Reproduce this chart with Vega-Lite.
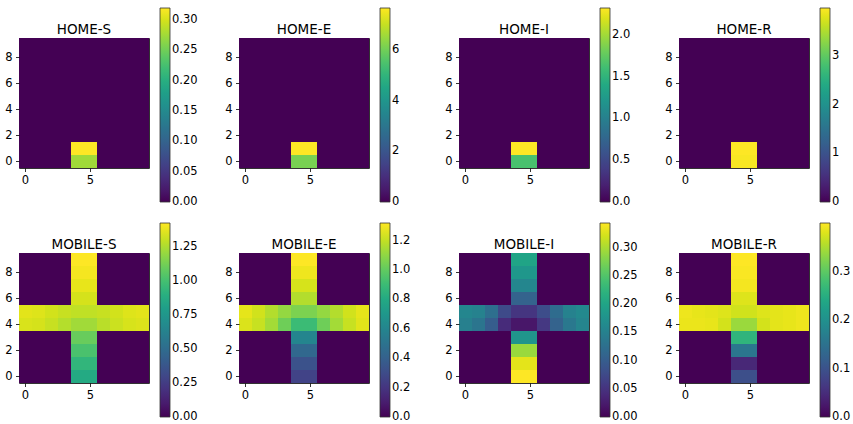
{
  "$schema": "https://vega.github.io/schema/vega-lite/v6.json",
  "autosize": {"type": "none"},
  "padding": {"left": 19, "top": 38, "right": 834, "bottom": 386},
  "background": "white",
  "config": {
    "font": "DejaVu Sans",
    "view": {"stroke": "#333", "strokeWidth": 1},
    "axis": {"domain": false, "grid": false, "title": null, "labelFont": "DejaVu Sans", "labelFontSize": 11.5, "labelColor": "#000", "tickColor": "#000", "tickSize": 3.5, "tickWidth": 0.8, "labelAngle": 0},
    "axisX": {"labelPadding": 2.5},
    "axisY": {"labelPadding": 3.5},
    "legend": {"labelFont": "DejaVu Sans", "labelFontSize": 11.5, "labelColor": "#000", "gradientLength": 194, "gradientThickness": 10, "gradientStrokeColor": "#333", "gradientStrokeWidth": 0.8, "labelOffset": 3, "labelOverlap": false, "labelBaseline": "middle", "direction": "vertical"},
    "title": {"font": "DejaVu Sans", "fontSize": 13.5, "fontWeight": "normal", "color": "#000", "anchor": "middle", "frame": "group", "offset": -28}
  },
  "datasets": {
    "home_s": [
      {"r":0,"c":0,"v":0},{"r":0,"c":1,"v":0},{"r":0,"c":2,"v":0},{"r":0,"c":3,"v":0},{"r":0,"c":4,"v":0.275},{"r":0,"c":5,"v":0.275},{"r":0,"c":6,"v":0},{"r":0,"c":7,"v":0},{"r":0,"c":8,"v":0},{"r":0,"c":9,"v":0},
      {"r":1,"c":0,"v":0},{"r":1,"c":1,"v":0},{"r":1,"c":2,"v":0},{"r":1,"c":3,"v":0},{"r":1,"c":4,"v":0.32},{"r":1,"c":5,"v":0.32},{"r":1,"c":6,"v":0},{"r":1,"c":7,"v":0},{"r":1,"c":8,"v":0},{"r":1,"c":9,"v":0},
      {"r":2,"c":0,"v":0},{"r":2,"c":1,"v":0},{"r":2,"c":2,"v":0},{"r":2,"c":3,"v":0},{"r":2,"c":4,"v":0},{"r":2,"c":5,"v":0},{"r":2,"c":6,"v":0},{"r":2,"c":7,"v":0},{"r":2,"c":8,"v":0},{"r":2,"c":9,"v":0},
      {"r":3,"c":0,"v":0},{"r":3,"c":1,"v":0},{"r":3,"c":2,"v":0},{"r":3,"c":3,"v":0},{"r":3,"c":4,"v":0},{"r":3,"c":5,"v":0},{"r":3,"c":6,"v":0},{"r":3,"c":7,"v":0},{"r":3,"c":8,"v":0},{"r":3,"c":9,"v":0},
      {"r":4,"c":0,"v":0},{"r":4,"c":1,"v":0},{"r":4,"c":2,"v":0},{"r":4,"c":3,"v":0},{"r":4,"c":4,"v":0},{"r":4,"c":5,"v":0},{"r":4,"c":6,"v":0},{"r":4,"c":7,"v":0},{"r":4,"c":8,"v":0},{"r":4,"c":9,"v":0},
      {"r":5,"c":0,"v":0},{"r":5,"c":1,"v":0},{"r":5,"c":2,"v":0},{"r":5,"c":3,"v":0},{"r":5,"c":4,"v":0},{"r":5,"c":5,"v":0},{"r":5,"c":6,"v":0},{"r":5,"c":7,"v":0},{"r":5,"c":8,"v":0},{"r":5,"c":9,"v":0},
      {"r":6,"c":0,"v":0},{"r":6,"c":1,"v":0},{"r":6,"c":2,"v":0},{"r":6,"c":3,"v":0},{"r":6,"c":4,"v":0},{"r":6,"c":5,"v":0},{"r":6,"c":6,"v":0},{"r":6,"c":7,"v":0},{"r":6,"c":8,"v":0},{"r":6,"c":9,"v":0},
      {"r":7,"c":0,"v":0},{"r":7,"c":1,"v":0},{"r":7,"c":2,"v":0},{"r":7,"c":3,"v":0},{"r":7,"c":4,"v":0},{"r":7,"c":5,"v":0},{"r":7,"c":6,"v":0},{"r":7,"c":7,"v":0},{"r":7,"c":8,"v":0},{"r":7,"c":9,"v":0},
      {"r":8,"c":0,"v":0},{"r":8,"c":1,"v":0},{"r":8,"c":2,"v":0},{"r":8,"c":3,"v":0},{"r":8,"c":4,"v":0},{"r":8,"c":5,"v":0},{"r":8,"c":6,"v":0},{"r":8,"c":7,"v":0},{"r":8,"c":8,"v":0},{"r":8,"c":9,"v":0},
      {"r":9,"c":0,"v":0},{"r":9,"c":1,"v":0},{"r":9,"c":2,"v":0},{"r":9,"c":3,"v":0},{"r":9,"c":4,"v":0},{"r":9,"c":5,"v":0},{"r":9,"c":6,"v":0},{"r":9,"c":7,"v":0},{"r":9,"c":8,"v":0},{"r":9,"c":9,"v":0}
    ],
    "home_e": [
      {"r":0,"c":0,"v":0},{"r":0,"c":1,"v":0},{"r":0,"c":2,"v":0},{"r":0,"c":3,"v":0},{"r":0,"c":4,"v":6.1},{"r":0,"c":5,"v":6.1},{"r":0,"c":6,"v":0},{"r":0,"c":7,"v":0},{"r":0,"c":8,"v":0},{"r":0,"c":9,"v":0},
      {"r":1,"c":0,"v":0},{"r":1,"c":1,"v":0},{"r":1,"c":2,"v":0},{"r":1,"c":3,"v":0},{"r":1,"c":4,"v":7.65},{"r":1,"c":5,"v":7.65},{"r":1,"c":6,"v":0},{"r":1,"c":7,"v":0},{"r":1,"c":8,"v":0},{"r":1,"c":9,"v":0},
      {"r":2,"c":0,"v":0},{"r":2,"c":1,"v":0},{"r":2,"c":2,"v":0},{"r":2,"c":3,"v":0},{"r":2,"c":4,"v":0},{"r":2,"c":5,"v":0},{"r":2,"c":6,"v":0},{"r":2,"c":7,"v":0},{"r":2,"c":8,"v":0},{"r":2,"c":9,"v":0},
      {"r":3,"c":0,"v":0},{"r":3,"c":1,"v":0},{"r":3,"c":2,"v":0},{"r":3,"c":3,"v":0},{"r":3,"c":4,"v":0},{"r":3,"c":5,"v":0},{"r":3,"c":6,"v":0},{"r":3,"c":7,"v":0},{"r":3,"c":8,"v":0},{"r":3,"c":9,"v":0},
      {"r":4,"c":0,"v":0},{"r":4,"c":1,"v":0},{"r":4,"c":2,"v":0},{"r":4,"c":3,"v":0},{"r":4,"c":4,"v":0},{"r":4,"c":5,"v":0},{"r":4,"c":6,"v":0},{"r":4,"c":7,"v":0},{"r":4,"c":8,"v":0},{"r":4,"c":9,"v":0},
      {"r":5,"c":0,"v":0},{"r":5,"c":1,"v":0},{"r":5,"c":2,"v":0},{"r":5,"c":3,"v":0},{"r":5,"c":4,"v":0},{"r":5,"c":5,"v":0},{"r":5,"c":6,"v":0},{"r":5,"c":7,"v":0},{"r":5,"c":8,"v":0},{"r":5,"c":9,"v":0},
      {"r":6,"c":0,"v":0},{"r":6,"c":1,"v":0},{"r":6,"c":2,"v":0},{"r":6,"c":3,"v":0},{"r":6,"c":4,"v":0},{"r":6,"c":5,"v":0},{"r":6,"c":6,"v":0},{"r":6,"c":7,"v":0},{"r":6,"c":8,"v":0},{"r":6,"c":9,"v":0},
      {"r":7,"c":0,"v":0},{"r":7,"c":1,"v":0},{"r":7,"c":2,"v":0},{"r":7,"c":3,"v":0},{"r":7,"c":4,"v":0},{"r":7,"c":5,"v":0},{"r":7,"c":6,"v":0},{"r":7,"c":7,"v":0},{"r":7,"c":8,"v":0},{"r":7,"c":9,"v":0},
      {"r":8,"c":0,"v":0},{"r":8,"c":1,"v":0},{"r":8,"c":2,"v":0},{"r":8,"c":3,"v":0},{"r":8,"c":4,"v":0},{"r":8,"c":5,"v":0},{"r":8,"c":6,"v":0},{"r":8,"c":7,"v":0},{"r":8,"c":8,"v":0},{"r":8,"c":9,"v":0},
      {"r":9,"c":0,"v":0},{"r":9,"c":1,"v":0},{"r":9,"c":2,"v":0},{"r":9,"c":3,"v":0},{"r":9,"c":4,"v":0},{"r":9,"c":5,"v":0},{"r":9,"c":6,"v":0},{"r":9,"c":7,"v":0},{"r":9,"c":8,"v":0},{"r":9,"c":9,"v":0}
    ],
    "home_i": [
      {"r":0,"c":0,"v":0},{"r":0,"c":1,"v":0},{"r":0,"c":2,"v":0},{"r":0,"c":3,"v":0},{"r":0,"c":4,"v":1.65},{"r":0,"c":5,"v":1.65},{"r":0,"c":6,"v":0},{"r":0,"c":7,"v":0},{"r":0,"c":8,"v":0},{"r":0,"c":9,"v":0},
      {"r":1,"c":0,"v":0},{"r":1,"c":1,"v":0},{"r":1,"c":2,"v":0},{"r":1,"c":3,"v":0},{"r":1,"c":4,"v":2.32},{"r":1,"c":5,"v":2.32},{"r":1,"c":6,"v":0},{"r":1,"c":7,"v":0},{"r":1,"c":8,"v":0},{"r":1,"c":9,"v":0},
      {"r":2,"c":0,"v":0},{"r":2,"c":1,"v":0},{"r":2,"c":2,"v":0},{"r":2,"c":3,"v":0},{"r":2,"c":4,"v":0},{"r":2,"c":5,"v":0},{"r":2,"c":6,"v":0},{"r":2,"c":7,"v":0},{"r":2,"c":8,"v":0},{"r":2,"c":9,"v":0},
      {"r":3,"c":0,"v":0},{"r":3,"c":1,"v":0},{"r":3,"c":2,"v":0},{"r":3,"c":3,"v":0},{"r":3,"c":4,"v":0},{"r":3,"c":5,"v":0},{"r":3,"c":6,"v":0},{"r":3,"c":7,"v":0},{"r":3,"c":8,"v":0},{"r":3,"c":9,"v":0},
      {"r":4,"c":0,"v":0},{"r":4,"c":1,"v":0},{"r":4,"c":2,"v":0},{"r":4,"c":3,"v":0},{"r":4,"c":4,"v":0},{"r":4,"c":5,"v":0},{"r":4,"c":6,"v":0},{"r":4,"c":7,"v":0},{"r":4,"c":8,"v":0},{"r":4,"c":9,"v":0},
      {"r":5,"c":0,"v":0},{"r":5,"c":1,"v":0},{"r":5,"c":2,"v":0},{"r":5,"c":3,"v":0},{"r":5,"c":4,"v":0},{"r":5,"c":5,"v":0},{"r":5,"c":6,"v":0},{"r":5,"c":7,"v":0},{"r":5,"c":8,"v":0},{"r":5,"c":9,"v":0},
      {"r":6,"c":0,"v":0},{"r":6,"c":1,"v":0},{"r":6,"c":2,"v":0},{"r":6,"c":3,"v":0},{"r":6,"c":4,"v":0},{"r":6,"c":5,"v":0},{"r":6,"c":6,"v":0},{"r":6,"c":7,"v":0},{"r":6,"c":8,"v":0},{"r":6,"c":9,"v":0},
      {"r":7,"c":0,"v":0},{"r":7,"c":1,"v":0},{"r":7,"c":2,"v":0},{"r":7,"c":3,"v":0},{"r":7,"c":4,"v":0},{"r":7,"c":5,"v":0},{"r":7,"c":6,"v":0},{"r":7,"c":7,"v":0},{"r":7,"c":8,"v":0},{"r":7,"c":9,"v":0},
      {"r":8,"c":0,"v":0},{"r":8,"c":1,"v":0},{"r":8,"c":2,"v":0},{"r":8,"c":3,"v":0},{"r":8,"c":4,"v":0},{"r":8,"c":5,"v":0},{"r":8,"c":6,"v":0},{"r":8,"c":7,"v":0},{"r":8,"c":8,"v":0},{"r":8,"c":9,"v":0},
      {"r":9,"c":0,"v":0},{"r":9,"c":1,"v":0},{"r":9,"c":2,"v":0},{"r":9,"c":3,"v":0},{"r":9,"c":4,"v":0},{"r":9,"c":5,"v":0},{"r":9,"c":6,"v":0},{"r":9,"c":7,"v":0},{"r":9,"c":8,"v":0},{"r":9,"c":9,"v":0}
    ],
    "home_r": [
      {"r":0,"c":0,"v":0},{"r":0,"c":1,"v":0},{"r":0,"c":2,"v":0},{"r":0,"c":3,"v":0},{"r":0,"c":4,"v":3.95},{"r":0,"c":5,"v":3.95},{"r":0,"c":6,"v":0},{"r":0,"c":7,"v":0},{"r":0,"c":8,"v":0},{"r":0,"c":9,"v":0},
      {"r":1,"c":0,"v":0},{"r":1,"c":1,"v":0},{"r":1,"c":2,"v":0},{"r":1,"c":3,"v":0},{"r":1,"c":4,"v":3.98},{"r":1,"c":5,"v":3.98},{"r":1,"c":6,"v":0},{"r":1,"c":7,"v":0},{"r":1,"c":8,"v":0},{"r":1,"c":9,"v":0},
      {"r":2,"c":0,"v":0},{"r":2,"c":1,"v":0},{"r":2,"c":2,"v":0},{"r":2,"c":3,"v":0},{"r":2,"c":4,"v":0},{"r":2,"c":5,"v":0},{"r":2,"c":6,"v":0},{"r":2,"c":7,"v":0},{"r":2,"c":8,"v":0},{"r":2,"c":9,"v":0},
      {"r":3,"c":0,"v":0},{"r":3,"c":1,"v":0},{"r":3,"c":2,"v":0},{"r":3,"c":3,"v":0},{"r":3,"c":4,"v":0},{"r":3,"c":5,"v":0},{"r":3,"c":6,"v":0},{"r":3,"c":7,"v":0},{"r":3,"c":8,"v":0},{"r":3,"c":9,"v":0},
      {"r":4,"c":0,"v":0},{"r":4,"c":1,"v":0},{"r":4,"c":2,"v":0},{"r":4,"c":3,"v":0},{"r":4,"c":4,"v":0},{"r":4,"c":5,"v":0},{"r":4,"c":6,"v":0},{"r":4,"c":7,"v":0},{"r":4,"c":8,"v":0},{"r":4,"c":9,"v":0},
      {"r":5,"c":0,"v":0},{"r":5,"c":1,"v":0},{"r":5,"c":2,"v":0},{"r":5,"c":3,"v":0},{"r":5,"c":4,"v":0},{"r":5,"c":5,"v":0},{"r":5,"c":6,"v":0},{"r":5,"c":7,"v":0},{"r":5,"c":8,"v":0},{"r":5,"c":9,"v":0},
      {"r":6,"c":0,"v":0},{"r":6,"c":1,"v":0},{"r":6,"c":2,"v":0},{"r":6,"c":3,"v":0},{"r":6,"c":4,"v":0},{"r":6,"c":5,"v":0},{"r":6,"c":6,"v":0},{"r":6,"c":7,"v":0},{"r":6,"c":8,"v":0},{"r":6,"c":9,"v":0},
      {"r":7,"c":0,"v":0},{"r":7,"c":1,"v":0},{"r":7,"c":2,"v":0},{"r":7,"c":3,"v":0},{"r":7,"c":4,"v":0},{"r":7,"c":5,"v":0},{"r":7,"c":6,"v":0},{"r":7,"c":7,"v":0},{"r":7,"c":8,"v":0},{"r":7,"c":9,"v":0},
      {"r":8,"c":0,"v":0},{"r":8,"c":1,"v":0},{"r":8,"c":2,"v":0},{"r":8,"c":3,"v":0},{"r":8,"c":4,"v":0},{"r":8,"c":5,"v":0},{"r":8,"c":6,"v":0},{"r":8,"c":7,"v":0},{"r":8,"c":8,"v":0},{"r":8,"c":9,"v":0},
      {"r":9,"c":0,"v":0},{"r":9,"c":1,"v":0},{"r":9,"c":2,"v":0},{"r":9,"c":3,"v":0},{"r":9,"c":4,"v":0},{"r":9,"c":5,"v":0},{"r":9,"c":6,"v":0},{"r":9,"c":7,"v":0},{"r":9,"c":8,"v":0},{"r":9,"c":9,"v":0}
    ],
    "mobile_s": [
      {"r":0,"c":0,"v":0},{"r":0,"c":1,"v":0},{"r":0,"c":2,"v":0},{"r":0,"c":3,"v":0},{"r":0,"c":4,"v":0.87},{"r":0,"c":5,"v":0.87},{"r":0,"c":6,"v":0},{"r":0,"c":7,"v":0},{"r":0,"c":8,"v":0},{"r":0,"c":9,"v":0},
      {"r":1,"c":0,"v":0},{"r":1,"c":1,"v":0},{"r":1,"c":2,"v":0},{"r":1,"c":3,"v":0},{"r":1,"c":4,"v":0.94},{"r":1,"c":5,"v":0.94},{"r":1,"c":6,"v":0},{"r":1,"c":7,"v":0},{"r":1,"c":8,"v":0},{"r":1,"c":9,"v":0},
      {"r":2,"c":0,"v":0},{"r":2,"c":1,"v":0},{"r":2,"c":2,"v":0},{"r":2,"c":3,"v":0},{"r":2,"c":4,"v":1.02},{"r":2,"c":5,"v":1.02},{"r":2,"c":6,"v":0},{"r":2,"c":7,"v":0},{"r":2,"c":8,"v":0},{"r":2,"c":9,"v":0},
      {"r":3,"c":0,"v":0},{"r":3,"c":1,"v":0},{"r":3,"c":2,"v":0},{"r":3,"c":3,"v":0},{"r":3,"c":4,"v":1.1},{"r":3,"c":5,"v":1.1},{"r":3,"c":6,"v":0},{"r":3,"c":7,"v":0},{"r":3,"c":8,"v":0},{"r":3,"c":9,"v":0},
      {"r":4,"c":0,"v":1.35},{"r":4,"c":1,"v":1.34},{"r":4,"c":2,"v":1.31},{"r":4,"c":3,"v":1.27},{"r":4,"c":4,"v":1.23},{"r":4,"c":5,"v":1.23},{"r":4,"c":6,"v":1.28},{"r":4,"c":7,"v":1.32},{"r":4,"c":8,"v":1.345},{"r":4,"c":9,"v":1.355},
      {"r":5,"c":0,"v":1.37},{"r":5,"c":1,"v":1.36},{"r":5,"c":2,"v":1.335},{"r":5,"c":3,"v":1.31},{"r":5,"c":4,"v":1.295},{"r":5,"c":5,"v":1.295},{"r":5,"c":6,"v":1.31},{"r":5,"c":7,"v":1.335},{"r":5,"c":8,"v":1.36},{"r":5,"c":9,"v":1.37},
      {"r":6,"c":0,"v":0},{"r":6,"c":1,"v":0},{"r":6,"c":2,"v":0},{"r":6,"c":3,"v":0},{"r":6,"c":4,"v":1.34},{"r":6,"c":5,"v":1.34},{"r":6,"c":6,"v":0},{"r":6,"c":7,"v":0},{"r":6,"c":8,"v":0},{"r":6,"c":9,"v":0},
      {"r":7,"c":0,"v":0},{"r":7,"c":1,"v":0},{"r":7,"c":2,"v":0},{"r":7,"c":3,"v":0},{"r":7,"c":4,"v":1.38},{"r":7,"c":5,"v":1.38},{"r":7,"c":6,"v":0},{"r":7,"c":7,"v":0},{"r":7,"c":8,"v":0},{"r":7,"c":9,"v":0},
      {"r":8,"c":0,"v":0},{"r":8,"c":1,"v":0},{"r":8,"c":2,"v":0},{"r":8,"c":3,"v":0},{"r":8,"c":4,"v":1.41},{"r":8,"c":5,"v":1.41},{"r":8,"c":6,"v":0},{"r":8,"c":7,"v":0},{"r":8,"c":8,"v":0},{"r":8,"c":9,"v":0},
      {"r":9,"c":0,"v":0},{"r":9,"c":1,"v":0},{"r":9,"c":2,"v":0},{"r":9,"c":3,"v":0},{"r":9,"c":4,"v":1.43},{"r":9,"c":5,"v":1.43},{"r":9,"c":6,"v":0},{"r":9,"c":7,"v":0},{"r":9,"c":8,"v":0},{"r":9,"c":9,"v":0}
    ],
    "mobile_e": [
      {"r":0,"c":0,"v":0},{"r":0,"c":1,"v":0},{"r":0,"c":2,"v":0},{"r":0,"c":3,"v":0},{"r":0,"c":4,"v":0.26},{"r":0,"c":5,"v":0.26},{"r":0,"c":6,"v":0},{"r":0,"c":7,"v":0},{"r":0,"c":8,"v":0},{"r":0,"c":9,"v":0},
      {"r":1,"c":0,"v":0},{"r":1,"c":1,"v":0},{"r":1,"c":2,"v":0},{"r":1,"c":3,"v":0},{"r":1,"c":4,"v":0.33},{"r":1,"c":5,"v":0.33},{"r":1,"c":6,"v":0},{"r":1,"c":7,"v":0},{"r":1,"c":8,"v":0},{"r":1,"c":9,"v":0},
      {"r":2,"c":0,"v":0},{"r":2,"c":1,"v":0},{"r":2,"c":2,"v":0},{"r":2,"c":3,"v":0},{"r":2,"c":4,"v":0.44},{"r":2,"c":5,"v":0.44},{"r":2,"c":6,"v":0},{"r":2,"c":7,"v":0},{"r":2,"c":8,"v":0},{"r":2,"c":9,"v":0},
      {"r":3,"c":0,"v":0},{"r":3,"c":1,"v":0},{"r":3,"c":2,"v":0},{"r":3,"c":3,"v":0},{"r":3,"c":4,"v":0.6},{"r":3,"c":5,"v":0.6},{"r":3,"c":6,"v":0},{"r":3,"c":7,"v":0},{"r":3,"c":8,"v":0},{"r":3,"c":9,"v":0},
      {"r":4,"c":0,"v":1.25},{"r":4,"c":1,"v":1.21},{"r":4,"c":2,"v":1.14},{"r":4,"c":3,"v":1.03},{"r":4,"c":4,"v":0.9},{"r":4,"c":5,"v":0.9},{"r":4,"c":6,"v":1.03},{"r":4,"c":7,"v":1.14},{"r":4,"c":8,"v":1.21},{"r":4,"c":9,"v":1.26},
      {"r":5,"c":0,"v":1.27},{"r":5,"c":1,"v":1.23},{"r":5,"c":2,"v":1.17},{"r":5,"c":3,"v":1.11},{"r":5,"c":4,"v":1.06},{"r":5,"c":5,"v":1.06},{"r":5,"c":6,"v":1.11},{"r":5,"c":7,"v":1.17},{"r":5,"c":8,"v":1.23},{"r":5,"c":9,"v":1.27},
      {"r":6,"c":0,"v":0},{"r":6,"c":1,"v":0},{"r":6,"c":2,"v":0},{"r":6,"c":3,"v":0},{"r":6,"c":4,"v":1.17},{"r":6,"c":5,"v":1.17},{"r":6,"c":6,"v":0},{"r":6,"c":7,"v":0},{"r":6,"c":8,"v":0},{"r":6,"c":9,"v":0},
      {"r":7,"c":0,"v":0},{"r":7,"c":1,"v":0},{"r":7,"c":2,"v":0},{"r":7,"c":3,"v":0},{"r":7,"c":4,"v":1.24},{"r":7,"c":5,"v":1.24},{"r":7,"c":6,"v":0},{"r":7,"c":7,"v":0},{"r":7,"c":8,"v":0},{"r":7,"c":9,"v":0},
      {"r":8,"c":0,"v":0},{"r":8,"c":1,"v":0},{"r":8,"c":2,"v":0},{"r":8,"c":3,"v":0},{"r":8,"c":4,"v":1.29},{"r":8,"c":5,"v":1.29},{"r":8,"c":6,"v":0},{"r":8,"c":7,"v":0},{"r":8,"c":8,"v":0},{"r":8,"c":9,"v":0},
      {"r":9,"c":0,"v":0},{"r":9,"c":1,"v":0},{"r":9,"c":2,"v":0},{"r":9,"c":3,"v":0},{"r":9,"c":4,"v":1.32},{"r":9,"c":5,"v":1.32},{"r":9,"c":6,"v":0},{"r":9,"c":7,"v":0},{"r":9,"c":8,"v":0},{"r":9,"c":9,"v":0}
    ],
    "mobile_i": [
      {"r":0,"c":0,"v":0},{"r":0,"c":1,"v":0},{"r":0,"c":2,"v":0},{"r":0,"c":3,"v":0},{"r":0,"c":4,"v":0.344},{"r":0,"c":5,"v":0.344},{"r":0,"c":6,"v":0},{"r":0,"c":7,"v":0},{"r":0,"c":8,"v":0},{"r":0,"c":9,"v":0},
      {"r":1,"c":0,"v":0},{"r":1,"c":1,"v":0},{"r":1,"c":2,"v":0},{"r":1,"c":3,"v":0},{"r":1,"c":4,"v":0.33},{"r":1,"c":5,"v":0.33},{"r":1,"c":6,"v":0},{"r":1,"c":7,"v":0},{"r":1,"c":8,"v":0},{"r":1,"c":9,"v":0},
      {"r":2,"c":0,"v":0},{"r":2,"c":1,"v":0},{"r":2,"c":2,"v":0},{"r":2,"c":3,"v":0},{"r":2,"c":4,"v":0.292},{"r":2,"c":5,"v":0.292},{"r":2,"c":6,"v":0},{"r":2,"c":7,"v":0},{"r":2,"c":8,"v":0},{"r":2,"c":9,"v":0},
      {"r":3,"c":0,"v":0},{"r":3,"c":1,"v":0},{"r":3,"c":2,"v":0},{"r":3,"c":3,"v":0},{"r":3,"c":4,"v":0.179},{"r":3,"c":5,"v":0.179},{"r":3,"c":6,"v":0},{"r":3,"c":7,"v":0},{"r":3,"c":8,"v":0},{"r":3,"c":9,"v":0},
      {"r":4,"c":0,"v":0.148},{"r":4,"c":1,"v":0.134},{"r":4,"c":2,"v":0.1},{"r":4,"c":3,"v":0.041},{"r":4,"c":4,"v":0.02},{"r":4,"c":5,"v":0.02},{"r":4,"c":6,"v":0.055},{"r":4,"c":7,"v":0.107},{"r":4,"c":8,"v":0.138},{"r":4,"c":9,"v":0.155},
      {"r":5,"c":0,"v":0.158},{"r":5,"c":1,"v":0.151},{"r":5,"c":2,"v":0.124},{"r":5,"c":3,"v":0.076},{"r":5,"c":4,"v":0.052},{"r":5,"c":5,"v":0.052},{"r":5,"c":6,"v":0.079},{"r":5,"c":7,"v":0.12},{"r":5,"c":8,"v":0.151},{"r":5,"c":9,"v":0.162},
      {"r":6,"c":0,"v":0},{"r":6,"c":1,"v":0},{"r":6,"c":2,"v":0},{"r":6,"c":3,"v":0},{"r":6,"c":4,"v":0.107},{"r":6,"c":5,"v":0.107},{"r":6,"c":6,"v":0},{"r":6,"c":7,"v":0},{"r":6,"c":8,"v":0},{"r":6,"c":9,"v":0},
      {"r":7,"c":0,"v":0},{"r":7,"c":1,"v":0},{"r":7,"c":2,"v":0},{"r":7,"c":3,"v":0},{"r":7,"c":4,"v":0.158},{"r":7,"c":5,"v":0.158},{"r":7,"c":6,"v":0},{"r":7,"c":7,"v":0},{"r":7,"c":8,"v":0},{"r":7,"c":9,"v":0},
      {"r":8,"c":0,"v":0},{"r":8,"c":1,"v":0},{"r":8,"c":2,"v":0},{"r":8,"c":3,"v":0},{"r":8,"c":4,"v":0.182},{"r":8,"c":5,"v":0.182},{"r":8,"c":6,"v":0},{"r":8,"c":7,"v":0},{"r":8,"c":8,"v":0},{"r":8,"c":9,"v":0},
      {"r":9,"c":0,"v":0},{"r":9,"c":1,"v":0},{"r":9,"c":2,"v":0},{"r":9,"c":3,"v":0},{"r":9,"c":4,"v":0.2},{"r":9,"c":5,"v":0.2},{"r":9,"c":6,"v":0},{"r":9,"c":7,"v":0},{"r":9,"c":8,"v":0},{"r":9,"c":9,"v":0}
    ],
    "mobile_r": [
      {"r":0,"c":0,"v":0},{"r":0,"c":1,"v":0},{"r":0,"c":2,"v":0},{"r":0,"c":3,"v":0},{"r":0,"c":4,"v":0.095},{"r":0,"c":5,"v":0.095},{"r":0,"c":6,"v":0},{"r":0,"c":7,"v":0},{"r":0,"c":8,"v":0},{"r":0,"c":9,"v":0},
      {"r":1,"c":0,"v":0},{"r":1,"c":1,"v":0},{"r":1,"c":2,"v":0},{"r":1,"c":3,"v":0},{"r":1,"c":4,"v":0.044},{"r":1,"c":5,"v":0.044},{"r":1,"c":6,"v":0},{"r":1,"c":7,"v":0},{"r":1,"c":8,"v":0},{"r":1,"c":9,"v":0},
      {"r":2,"c":0,"v":0},{"r":2,"c":1,"v":0},{"r":2,"c":2,"v":0},{"r":2,"c":3,"v":0},{"r":2,"c":4,"v":0.156},{"r":2,"c":5,"v":0.156},{"r":2,"c":6,"v":0},{"r":2,"c":7,"v":0},{"r":2,"c":8,"v":0},{"r":2,"c":9,"v":0},
      {"r":3,"c":0,"v":0},{"r":3,"c":1,"v":0},{"r":3,"c":2,"v":0},{"r":3,"c":3,"v":0},{"r":3,"c":4,"v":0.26},{"r":3,"c":5,"v":0.26},{"r":3,"c":6,"v":0},{"r":3,"c":7,"v":0},{"r":3,"c":8,"v":0},{"r":3,"c":9,"v":0},
      {"r":4,"c":0,"v":0.388},{"r":4,"c":1,"v":0.388},{"r":4,"c":2,"v":0.386},{"r":4,"c":3,"v":0.374},{"r":4,"c":4,"v":0.34},{"r":4,"c":5,"v":0.34},{"r":4,"c":6,"v":0.374},{"r":4,"c":7,"v":0.384},{"r":4,"c":8,"v":0.386},{"r":4,"c":9,"v":0.39},
      {"r":5,"c":0,"v":0.39},{"r":5,"c":1,"v":0.386},{"r":5,"c":2,"v":0.384},{"r":5,"c":3,"v":0.38},{"r":5,"c":4,"v":0.372},{"r":5,"c":5,"v":0.372},{"r":5,"c":6,"v":0.38},{"r":5,"c":7,"v":0.384},{"r":5,"c":8,"v":0.386},{"r":5,"c":9,"v":0.39},
      {"r":6,"c":0,"v":0},{"r":6,"c":1,"v":0},{"r":6,"c":2,"v":0},{"r":6,"c":3,"v":0},{"r":6,"c":4,"v":0.38},{"r":6,"c":5,"v":0.38},{"r":6,"c":6,"v":0},{"r":6,"c":7,"v":0},{"r":6,"c":8,"v":0},{"r":6,"c":9,"v":0},
      {"r":7,"c":0,"v":0},{"r":7,"c":1,"v":0},{"r":7,"c":2,"v":0},{"r":7,"c":3,"v":0},{"r":7,"c":4,"v":0.394},{"r":7,"c":5,"v":0.394},{"r":7,"c":6,"v":0},{"r":7,"c":7,"v":0},{"r":7,"c":8,"v":0},{"r":7,"c":9,"v":0},
      {"r":8,"c":0,"v":0},{"r":8,"c":1,"v":0},{"r":8,"c":2,"v":0},{"r":8,"c":3,"v":0},{"r":8,"c":4,"v":0.397},{"r":8,"c":5,"v":0.397},{"r":8,"c":6,"v":0},{"r":8,"c":7,"v":0},{"r":8,"c":8,"v":0},{"r":8,"c":9,"v":0},
      {"r":9,"c":0,"v":0},{"r":9,"c":1,"v":0},{"r":9,"c":2,"v":0},{"r":9,"c":3,"v":0},{"r":9,"c":4,"v":0.4},{"r":9,"c":5,"v":0.4},{"r":9,"c":6,"v":0},{"r":9,"c":7,"v":0},{"r":9,"c":8,"v":0},{"r":9,"c":9,"v":0}
    ]
  },
  "columns": 4,
  "spacing": {"row": 85, "column": 90},
  "bounds": "flush",
  "resolve": {"scale": {"color": "independent"}, "legend": {"color": "independent"}},
  "concat": [
    {
      "title": "HOME-S", "width": 130, "height": 130, "data": {"name": "home_s"}, "mark": "rect",
      "encoding": {
        "x": {"field": "c", "type": "ordinal", "scale": {"paddingInner": 0, "paddingOuter": 0}, "axis": {"values": [0, 5]}},
        "y": {"field": "r", "type": "ordinal", "sort": "descending", "scale": {"paddingInner": 0, "paddingOuter": 0}, "axis": {"values": [0, 2, 4, 6, 8]}},
        "color": {"field": "v", "type": "quantitative", "scale": {"scheme": "viridis", "nice": false, "zero": true},
          "legend": {"title": null, "orient": "none", "legendX": 141, "legendY": -30, "values": [0, 0.05, 0.1, 0.15, 0.2, 0.25, 0.3], "format": ".2f", "encode": {"labels": {"update": {"baseline": {"value": "middle"}}}}}}
      }
    },
    {
      "title": "HOME-E", "width": 130, "height": 130, "data": {"name": "home_e"}, "mark": "rect",
      "encoding": {
        "x": {"field": "c", "type": "ordinal", "scale": {"paddingInner": 0, "paddingOuter": 0}, "axis": {"values": [0, 5]}},
        "y": {"field": "r", "type": "ordinal", "sort": "descending", "scale": {"paddingInner": 0, "paddingOuter": 0}, "axis": {"values": [0, 2, 4, 6, 8]}},
        "color": {"field": "v", "type": "quantitative", "scale": {"scheme": "viridis", "nice": false, "zero": true},
          "legend": {"title": null, "orient": "none", "legendX": 141, "legendY": -30, "values": [0, 2, 4, 6], "format": "d", "encode": {"labels": {"update": {"baseline": {"value": "middle"}}}}}}
      }
    },
    {
      "title": "HOME-I", "width": 130, "height": 130, "data": {"name": "home_i"}, "mark": "rect",
      "encoding": {
        "x": {"field": "c", "type": "ordinal", "scale": {"paddingInner": 0, "paddingOuter": 0}, "axis": {"values": [0, 5]}},
        "y": {"field": "r", "type": "ordinal", "sort": "descending", "scale": {"paddingInner": 0, "paddingOuter": 0}, "axis": {"values": [0, 2, 4, 6, 8]}},
        "color": {"field": "v", "type": "quantitative", "scale": {"scheme": "viridis", "nice": false, "zero": true},
          "legend": {"title": null, "orient": "none", "legendX": 141, "legendY": -30, "values": [0, 0.5, 1, 1.5, 2], "format": ".1f", "encode": {"labels": {"update": {"baseline": {"value": "middle"}}}}}}
      }
    },
    {
      "title": "HOME-R", "width": 130, "height": 130, "data": {"name": "home_r"}, "mark": "rect",
      "encoding": {
        "x": {"field": "c", "type": "ordinal", "scale": {"paddingInner": 0, "paddingOuter": 0}, "axis": {"values": [0, 5]}},
        "y": {"field": "r", "type": "ordinal", "sort": "descending", "scale": {"paddingInner": 0, "paddingOuter": 0}, "axis": {"values": [0, 2, 4, 6, 8]}},
        "color": {"field": "v", "type": "quantitative", "scale": {"scheme": "viridis", "nice": false, "zero": true},
          "legend": {"title": null, "orient": "none", "legendX": 141, "legendY": -30, "values": [0, 1, 2, 3], "format": "d", "encode": {"labels": {"update": {"baseline": {"value": "middle"}}}}}}
      }
    },
    {
      "title": "MOBILE-S", "width": 130, "height": 130, "data": {"name": "mobile_s"}, "mark": "rect",
      "encoding": {
        "x": {"field": "c", "type": "ordinal", "scale": {"paddingInner": 0, "paddingOuter": 0}, "axis": {"values": [0, 5]}},
        "y": {"field": "r", "type": "ordinal", "sort": "descending", "scale": {"paddingInner": 0, "paddingOuter": 0}, "axis": {"values": [0, 2, 4, 6, 8]}},
        "color": {"field": "v", "type": "quantitative", "scale": {"scheme": "viridis", "nice": false, "zero": true},
          "legend": {"title": null, "orient": "none", "legendX": 141, "legendY": -30, "values": [0, 0.25, 0.5, 0.75, 1, 1.25], "format": ".2f", "encode": {"labels": {"update": {"baseline": {"value": "middle"}}}}}}
      }
    },
    {
      "title": "MOBILE-E", "width": 130, "height": 130, "data": {"name": "mobile_e"}, "mark": "rect",
      "encoding": {
        "x": {"field": "c", "type": "ordinal", "scale": {"paddingInner": 0, "paddingOuter": 0}, "axis": {"values": [0, 5]}},
        "y": {"field": "r", "type": "ordinal", "sort": "descending", "scale": {"paddingInner": 0, "paddingOuter": 0}, "axis": {"values": [0, 2, 4, 6, 8]}},
        "color": {"field": "v", "type": "quantitative", "scale": {"scheme": "viridis", "nice": false, "zero": true},
          "legend": {"title": null, "orient": "none", "legendX": 141, "legendY": -30, "values": [0, 0.2, 0.4, 0.6, 0.8, 1, 1.2], "format": ".1f", "encode": {"labels": {"update": {"baseline": {"value": "middle"}}}}}}
      }
    },
    {
      "title": "MOBILE-I", "width": 130, "height": 130, "data": {"name": "mobile_i"}, "mark": "rect",
      "encoding": {
        "x": {"field": "c", "type": "ordinal", "scale": {"paddingInner": 0, "paddingOuter": 0}, "axis": {"values": [0, 5]}},
        "y": {"field": "r", "type": "ordinal", "sort": "descending", "scale": {"paddingInner": 0, "paddingOuter": 0}, "axis": {"values": [0, 2, 4, 6, 8]}},
        "color": {"field": "v", "type": "quantitative", "scale": {"scheme": "viridis", "nice": false, "zero": true},
          "legend": {"title": null, "orient": "none", "legendX": 141, "legendY": -30, "values": [0, 0.05, 0.1, 0.15, 0.2, 0.25, 0.3], "format": ".2f", "encode": {"labels": {"update": {"baseline": {"value": "middle"}}}}}}
      }
    },
    {
      "title": "MOBILE-R", "width": 130, "height": 130, "data": {"name": "mobile_r"}, "mark": "rect",
      "encoding": {
        "x": {"field": "c", "type": "ordinal", "scale": {"paddingInner": 0, "paddingOuter": 0}, "axis": {"values": [0, 5]}},
        "y": {"field": "r", "type": "ordinal", "sort": "descending", "scale": {"paddingInner": 0, "paddingOuter": 0}, "axis": {"values": [0, 2, 4, 6, 8]}},
        "color": {"field": "v", "type": "quantitative", "scale": {"scheme": "viridis", "nice": false, "zero": true},
          "legend": {"title": null, "orient": "none", "legendX": 141, "legendY": -30, "values": [0, 0.1, 0.2, 0.3], "format": ".1f", "encode": {"labels": {"update": {"baseline": {"value": "middle"}}}}}}
      }
    }
  ]
}
